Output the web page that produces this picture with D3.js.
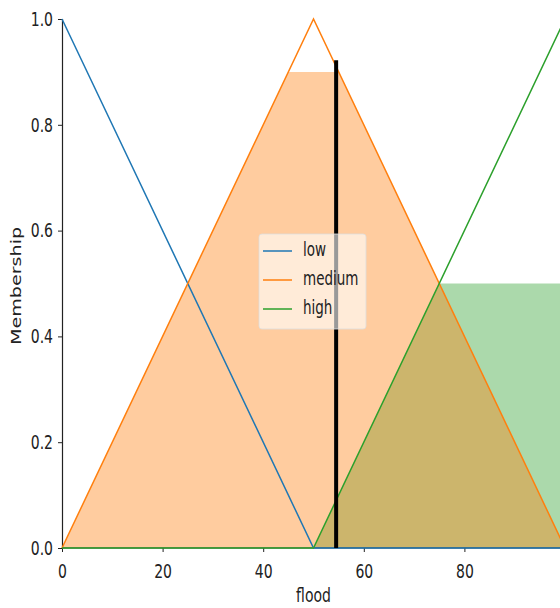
<!DOCTYPE html>
<html>
<head>
<meta charset="utf-8">
<script src="https://cdn.jsdelivr.net/npm/d3@7"></script>
<style>
  body { margin: 0; background: #fff; }
  text { font-family: "DejaVu Sans", sans-serif; fill: #222; }
</style>
</head>
<body>
<div id="chart"></div>
<script>
// universe and membership breakpoints
var universe = [0, 100];
var lowPts = [[0, 1], [50, 0], [100, 0]];
var mediumPts = [[0, 0], [50, 1], [100, 0]];
var highPts = [[0, 0], [50, 0], [100, 1]];
var termNames = ["low", "medium", "high"];
var termColors = ["#1f77b4", "#ff7f0e", "#2ca02c"];
// activation levels (clipped fills)
var mediumCut = 0.9;
var highCut = 0.5;
// crisp input marker
var inputValue = 54.5;
var inputHeight = 0.922;
var xTicks = [0, 20, 40, 60, 80];
var yTicks = [0, 0.2, 0.4, 0.6, 0.8, 1.0];

var width = 560, height = 608;
var margin = {top: 19, left: 62, bottom: 60};
var stretch = 1.42;   // text in the picture is drawn tall

var svg = d3.select("#chart").append("svg")
    .attr("width", width)
    .attr("height", height);

var x = d3.scaleLinear().domain(universe).range([margin.left, 565]);
var y = d3.scaleLinear().domain([0, 1]).range([height - margin.bottom, margin.top]);

var line = d3.line().x(function(d){ return x(d[0]); }).y(function(d){ return y(d[1]); });
var area = d3.area().x(function(d){ return x(d[0]); }).y0(y(0)).y1(function(d){ return y(d[1]); });

// densify a piecewise-linear term and clip at a level
function clipped(pts, cut) {
  var out = [];
  for (var v = universe[0]; v <= universe[1]; v += 0.25) {
    var m = 0;
    for (var i = 0; i < pts.length - 1; i++) {
      if (v >= pts[i][0] && v <= pts[i+1][0]) {
        var t = (v - pts[i][0]) / (pts[i+1][0] - pts[i][0]);
        m = pts[i][1] + t * (pts[i+1][1] - pts[i][1]);
        break;
      }
    }
    out.push([v, Math.min(m, cut)]);
  }
  return out;
}

// fills: high first, medium over it
svg.append("path")
    .attr("d", area(clipped(highPts, highCut)))
    .attr("fill", "#2ca02c").attr("fill-opacity", 0.4);
svg.append("path")
    .attr("d", area(clipped(mediumPts, mediumCut)))
    .attr("fill", "#ff7f0e").attr("fill-opacity", 0.4);

// axes
var xAxis = svg.append("g")
    .attr("transform", "translate(0," + y(0) + ")")
    .call(d3.axisBottom(x).tickValues(xTicks).tickSize(4).tickPadding(7).tickFormat(d3.format("d")));
var yAxis = svg.append("g")
    .attr("transform", "translate(" + x(0) + ",0)")
    .call(d3.axisLeft(y).tickValues(yTicks).tickSize(4).tickPadding(5).tickFormat(d3.format(".1f")));
[xAxis, yAxis].forEach(function(a){
  a.select(".domain").attr("stroke", "#222").attr("stroke-width", 1.2);
  a.selectAll(".tick line").attr("stroke", "#222");
  a.selectAll(".tick text").attr("font-size", 14).attr("fill", "#222")
    .attr("transform", "scale(1," + stretch + ")");
});
xAxis.select(".domain").attr("d", "M" + x(0) + ",0H" + width);

// term lines
[lowPts, mediumPts, highPts].forEach(function(p, i){
  svg.append("path")
      .attr("d", line(p))
      .attr("fill", "none")
      .attr("stroke", termColors[i])
      .attr("stroke-width", 1.5);
});

// input marker
svg.append("line")
    .attr("x1", x(inputValue)).attr("x2", x(inputValue))
    .attr("y1", y(0)).attr("y2", y(inputHeight))
    .attr("stroke", "#000").attr("stroke-width", 4);

// axis titles
svg.append("text")
    .attr("transform", "translate(" + x(50) + ",602) scale(1," + 1.42 + ")")
    .attr("text-anchor", "middle")
    .attr("font-size", 14)
    .text("flood");
svg.append("text")
    .attr("transform", "translate(21,286) rotate(-90) scale(1.32,1)")
    .attr("text-anchor", "middle")
    .attr("font-size", 14.5)
    .text("Membership");

// legend
var lg = svg.append("g").attr("transform", "translate(259,234)");
lg.append("rect")
    .attr("width", 107).attr("height", 95).attr("rx", 3)
    .attr("fill", "#fff").attr("fill-opacity", 0.6)
    .attr("stroke", "#ddd").attr("stroke-opacity", 0.8);
termNames.forEach(function(n, i){
  var yy = 17 + i * 29;
  lg.append("line")
      .attr("x1", 4).attr("x2", 33).attr("y1", yy).attr("y2", yy)
      .attr("stroke", termColors[i]).attr("stroke-width", 1.5);
  lg.append("text")
      .attr("transform", "translate(44," + (yy + 5) + ") scale(1," + stretch + ")")
      .attr("font-size", 13.5)
      .text(n);
});
</script>
</body>
</html>
